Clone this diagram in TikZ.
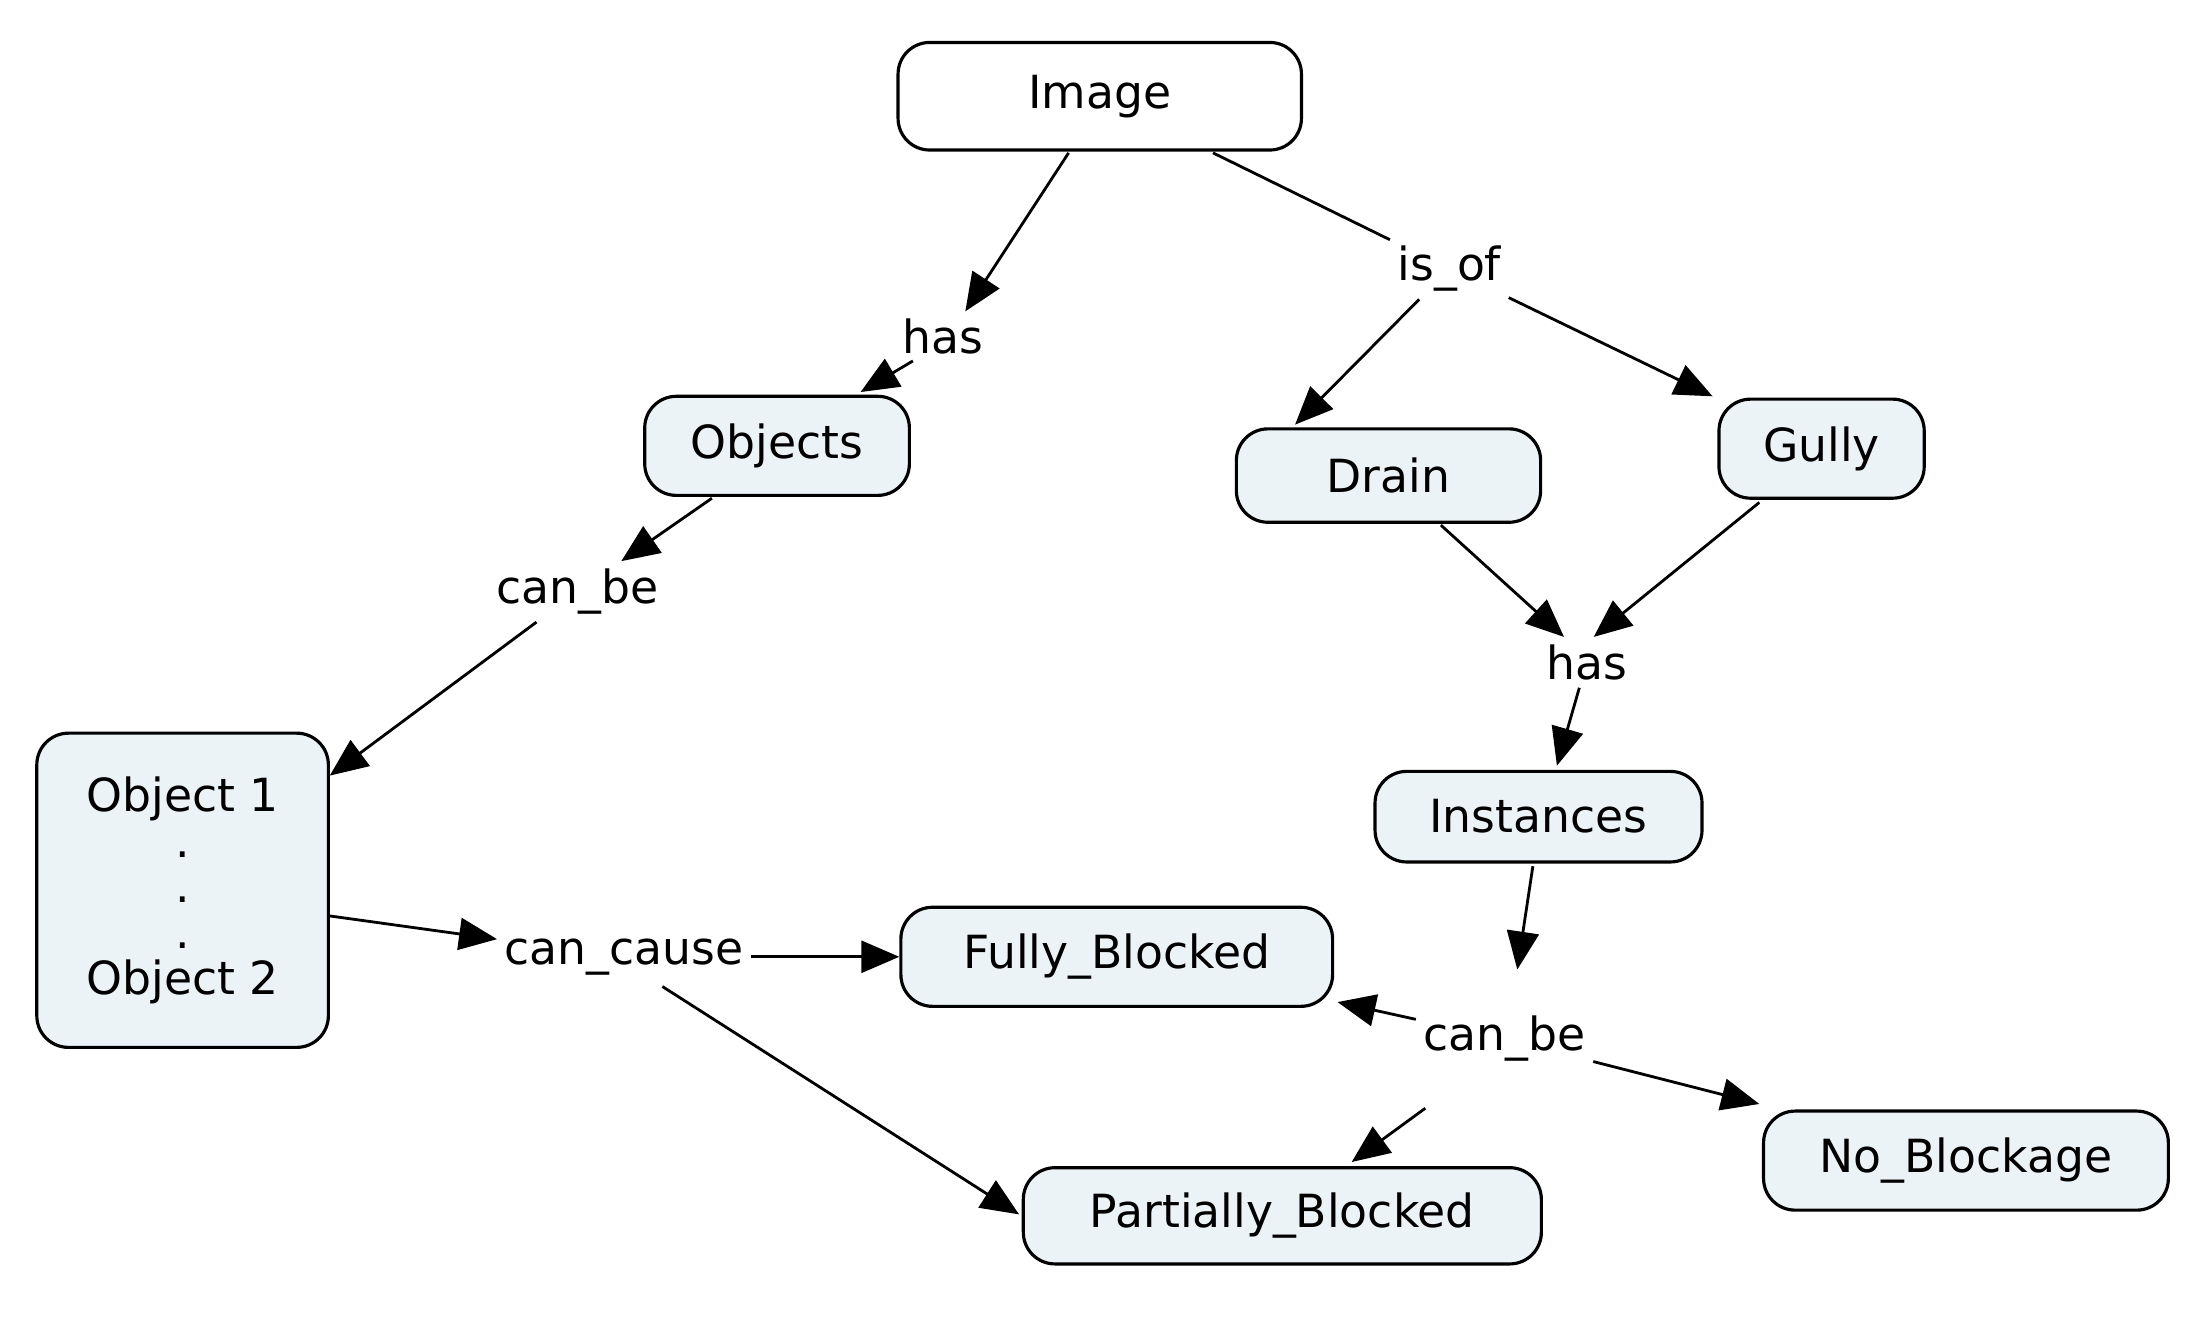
\documentclass[tikz,border=0pt]{standalone}
\usepackage{fontspec}
\setmainfont{DejaVu Sans}
\usetikzlibrary{arrows.meta}
\definecolor{cfill}{HTML}{EBF3F6}
\begin{document}
\begin{tikzpicture}[x=0.014154cm,y=-0.014154cm,
  box/.style={draw,rounded corners=9pt,fill=cfill,line width=0.9pt,font=\fontsize{13}{15}\selectfont,inner sep=0pt},
  lab/.style={font=\fontsize{13}{15}\selectfont,inner sep=2pt,fill=white},
  arr/.style={-{Triangle[length=0.38cm,width=0.32cm]},line width=0.8pt},
  ln/.style={line width=0.8pt}]
\useasboundingbox (0,0) rectangle (1560,938);
\node[box,fill=white,minimum width=285*0.014154cm,minimum height=76*0.014154cm] (img) at (777,68) {Image};
\node[box,minimum width=187*0.014154cm,minimum height=70*0.014154cm] (obj) at (549,315) {Objects};
\node[box,minimum width=215*0.014154cm,minimum height=66*0.014154cm] (drain) at (981,336) {Drain};
\node[box,minimum width=145*0.014154cm,minimum height=70*0.014154cm] (gully) at (1287,317) {Gully};
\node[box,minimum width=206*0.014154cm,minimum height=222*0.014154cm,align=center] (o12) at (129,629) {Object 1\\[-2pt].\\[-2pt].\\[-2pt].\\[-2pt]Object 2};
\node[box,minimum width=231*0.014154cm,minimum height=64*0.014154cm] (inst) at (1087,577) {Instances};
\node[box,minimum width=305*0.014154cm,minimum height=70*0.014154cm] (full) at (789,676) {Fully\_Blocked};
\node[box,minimum width=286*0.014154cm,minimum height=70*0.014154cm] (nob) at (1389,820) {No\_Blockage};
\node[box,minimum width=366*0.014154cm,minimum height=68*0.014154cm] (part) at (906,859) {Partially\_Blocked};
\node[lab] (has1) at (666,238) {has};
\node[lab] (isof) at (1024,190) {is\_of};
\node[lab] (canbe1) at (408,418) {can\_be};
\node[lab] (has2) at (1121,468) {has};
\node[lab] (cause) at (441,676) {can\_cause};
\node[lab] (canbe2) at (1063,734) {can\_be};
\coordinate (i1) at (755,108);
\coordinate (i2) at (857,108);
\draw[arr] (i1) -- (682,220);
\draw[arr] (645,255) -- (608,277);
\draw[ln] (i2) -- (isof);
\draw[arr] (isof) -- (915,300);
\draw[arr] (isof) -- (1210,280);
\draw[arr] (503,352) -- (canbe1);
\draw[arr] (canbe1) -- (233,548);
\draw[arr] (1018,371) -- (1105,450);
\draw[arr] (1243,355) -- (1126,450);
\draw[arr] (has2) -- (1100,541);
\draw[arr] (1083,612) -- (1072,685);
\draw[arr] (canbe2) -- (945,708);
\draw[arr] (canbe2) -- (1243,780);
\draw[arr] (1007,783) -- (955,821);
\draw[arr] (232,647) -- (cause);
\draw[arr] (cause) -- (full);
\draw[arr] (468,697) -- (720,858);
\end{tikzpicture}
\end{document}
